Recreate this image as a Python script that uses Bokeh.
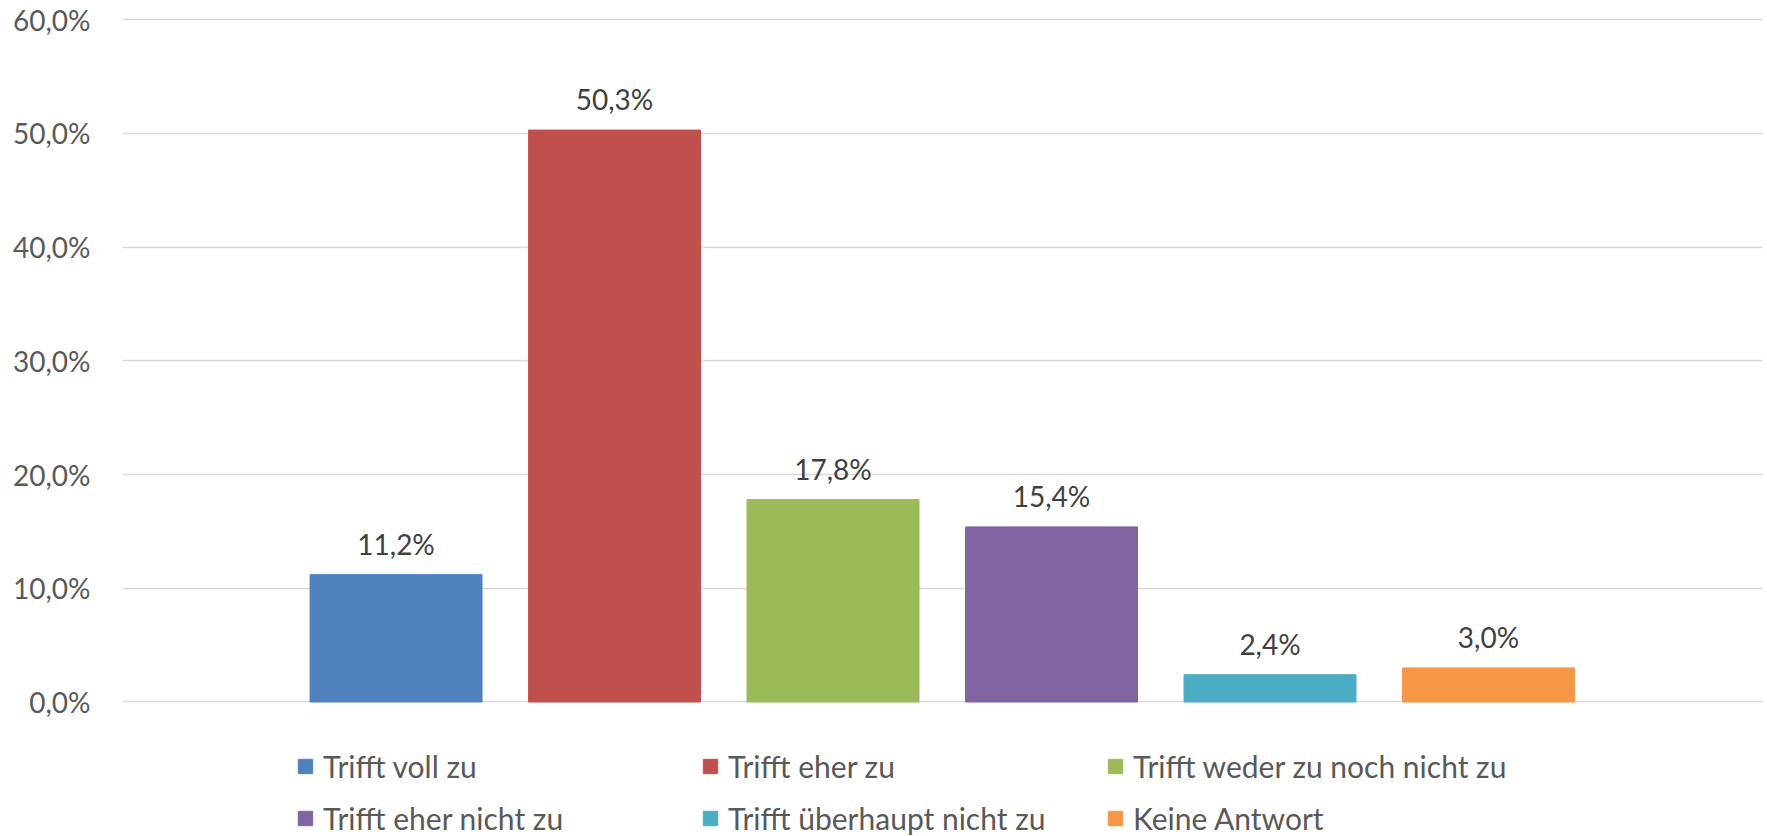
from bokeh.plotting import figure
from bokeh.models import (ColumnDataSource, Range1d, FixedTicker, CustomJSTickFormatter,
                          Legend, LegendItem)
from bokeh.core.properties import value
from bokeh.embed import file_html
from bokeh.resources import INLINE

categories = ["Trifft voll zu", "Trifft eher zu", "Trifft weder zu noch nicht zu",
              "Trifft eher nicht zu", "Trifft überhaupt nicht zu", "Keine Antwort"]
values = [11.2, 50.3, 17.8, 15.4, 2.4, 3.0]
colors = ["#4F81BD", "#C0504D", "#9BBB59", "#8064A2", "#4BACC6", "#F79646"]
y_ticks = [0, 10, 20, 30, 40, 50, 60]

labels = [("%.1f" % v).replace(".", ",") + "%" for v in values]
src = ColumnDataSource(dict(x=list(range(len(values))), top=values, color=colors,
                            cat=categories, label=labels))

FONT = "Lato"

# frame runs to the bottom edge so that the legend below the bars lies inside it
p = figure(width=1767, height=836, x_range=Range1d(-1.252, 6.254), y_range=Range1d(-11.83, 60.2),
           output_backend="svg", toolbar_location=None, x_axis_location=None,
           min_border_left=122, min_border_right=5, min_border_top=17, min_border_bottom=0)
p.outline_line_color = None
p.background_fill_color = "white"

bars = p.vbar(x="x", top="top", width=0.787, bottom=0, color="color", source=src)
p.text(x="x", y="top", text="label", source=src, text_font=value(FONT), text_font_size="28px",
       text_color="#404040", text_align="center", text_baseline="alphabetic", y_offset=-31)

p.xgrid.visible = False
p.ygrid.ticker = FixedTicker(ticks=y_ticks)
p.ygrid.grid_line_color = "#D9D9D9"
p.ygrid.grid_line_width = 1.5

ax = p.yaxis[0]
ax.ticker = FixedTicker(ticks=y_ticks)
ax.formatter = CustomJSTickFormatter(code="return tick.toFixed(1).replace('.', ',') + '%';")
ax.axis_line_color = None
ax.major_tick_line_color = None
ax.minor_tick_line_color = None
ax.major_label_standoff = 26
ax.major_label_text_font = FONT
ax.major_label_text_font_size = "28px"
ax.major_label_text_color = "#595959"

items = [LegendItem(label=c, renderers=[bars], index=i) for i, c in enumerate(categories)]
lg = Legend(items=items)
lg.orientation = "horizontal"
lg.ncols = 3
lg.location = (174, 0)
lg.border_line_color = None
lg.background_fill_alpha = 0
lg.padding = 0
lg.margin = 0
lg.spacing = 16
lg.glyph_width = 18
lg.glyph_height = 18
lg.label_standoff = 9
lg.label_width = 362
lg.label_height = 30
lg.label_text_font = FONT
lg.label_text_font_size = "30px"
lg.label_text_color = "#595959"
p.add_layout(lg, "center")

open("out.html", "w").write(file_html(p, INLINE))
